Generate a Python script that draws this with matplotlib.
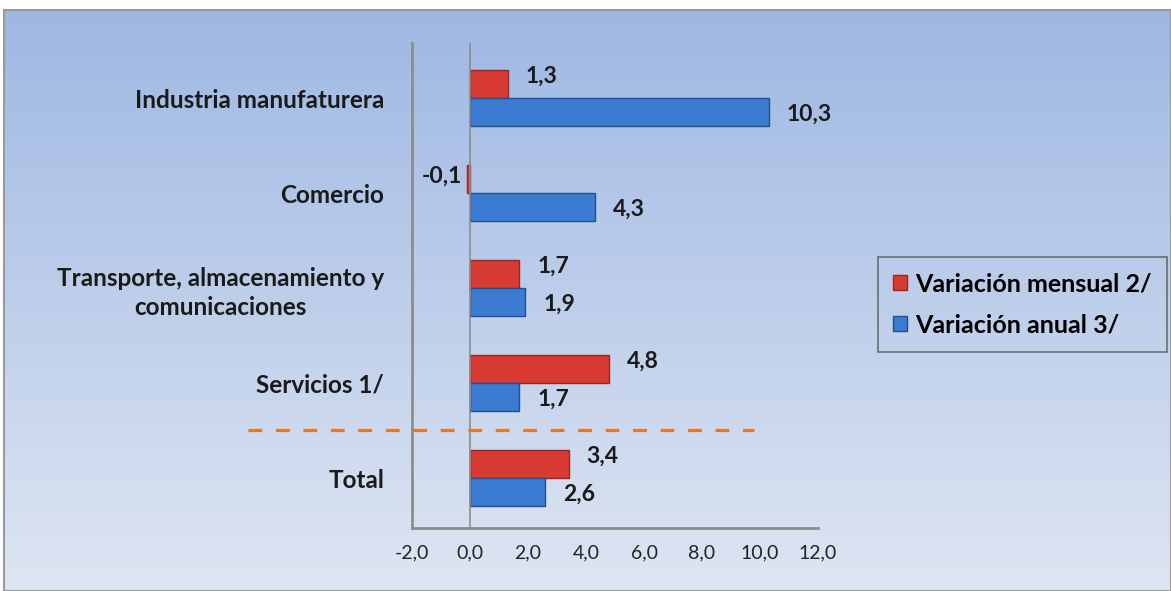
import numpy as np
import matplotlib.pyplot as plt
from matplotlib.patches import Patch

plt.rcParams['font.family'] = ['Lato', 'DejaVu Sans']

# chart data
categorias = ['Industria manufaturera', 'Comercio',
              'Transporte, almacenamiento y\ncomunicaciones', 'Servicios 1/', 'Total']
var_mensual = [1.3, -0.1, 1.7, 4.8, 3.4]
var_anual = [10.3, 4.3, 1.9, 1.7, 2.6]
series_names = ['Variación mensual 2/', 'Variación anual 3/']
xticks = [-2, 0, 2, 4, 6, 8, 10, 12]

W, H = 1171, 591
fig = plt.figure(figsize=(W / 100, H / 100), dpi=100)
fig.patch.set_facecolor('white')

# gradient background panel
bg = fig.add_axes([4 / W, 0, 1 - 4 / W, 1 - 10 / H])
grad = np.linspace(0, 1, 256).reshape(-1, 1)
top = np.array([0.62, 0.72, 0.89])
bot = np.array([0.87, 0.90, 0.95])
img = top + (bot - top) * grad[:, :, None]
bg.imshow(img, aspect='auto', extent=[0, 1, 0, 1])
bg.set_xticks([])
bg.set_yticks([])
for s in bg.spines.values():
    s.set_color('#9a9a9a')
    s.set_linewidth(1.5)

ax = fig.add_axes([412 / W, 1 - 528 / H, (818 - 412) / W, (528 - 43) / H])
ax.patch.set_alpha(0)

y = np.arange(len(categorias))
h = 0.29
red = '#d83b33'
blue = '#3b7bd1'
ax.barh(y - h / 2, var_mensual, height=h, color=red, edgecolor='#9e2420', linewidth=1)
ax.barh(y + h / 2, var_anual, height=h, color=blue, edgecolor='#22508e', linewidth=1)

ax.set_xlim(-2, 12)
ax.set_ylim(4.526, -0.579)
ax.axvline(0, color='#8c8c8c', lw=1.2)

def fmt(v):
    return f'{v:.1f}'.replace('.', ',')

lab = dict(fontsize=16.5, fontweight='bold', color='#1a1a1a', va='center')
for i, v in enumerate(var_mensual):
    if v < 0:
        ax.annotate(fmt(v), (v, y[i] - h / 2), xytext=(-4, 2), textcoords='offset points',
                    ha='right', **lab)
    else:
        ax.annotate(fmt(v), (v, y[i] - h / 2), xytext=(13, 6), textcoords='offset points',
                    ha='left', **lab)
for i, v in enumerate(var_anual):
    ax.annotate(fmt(v), (v, y[i] + h / 2), xytext=(13, -2), textcoords='offset points',
                ha='left', **lab)

# separator before Total
ax.plot([-7.65, 9.8], [3.495, 3.495], color='#e8781f', lw=2.3,
        linestyle=(0, (4.3, 4.3)), clip_on=False)

ax.set_yticks(y)
ax.set_yticklabels(categorias, fontsize=17.5, fontweight='bold', color='#1a1a1a',
                   multialignment='center', linespacing=1.3)
ax.tick_params(axis='y', length=0, pad=20)
ax.set_xticks(xticks)
ax.set_xticklabels([fmt(t) for t in xticks], fontsize=14, color='#222222')
ax.tick_params(axis='x', length=0, pad=12)

for s in ['top', 'right']:
    ax.spines[s].set_visible(False)
for s in ['left', 'bottom']:
    ax.spines[s].set_color('#8c8c8c')
    ax.spines[s].set_linewidth(2)

handles = [Patch(facecolor=red, edgecolor='#9e2420'), Patch(facecolor=blue, edgecolor='#22508e')]
leg = fig.legend(handles, series_names, loc='upper left',
                 bbox_to_anchor=(878 / W, 1 - 257 / H),
                 prop={'weight': 'bold', 'size': 18}, frameon=True, fancybox=False,
                 handlelength=0.55, handleheight=0.55, handletextpad=0.35,
                 labelspacing=0.75, borderpad=0.6, borderaxespad=0)
leg.get_frame().set_edgecolor('#555555')
leg.get_frame().set_facecolor('none')
leg.get_frame().set_linewidth(1.2)

fig.savefig('out.png', dpi=100)
